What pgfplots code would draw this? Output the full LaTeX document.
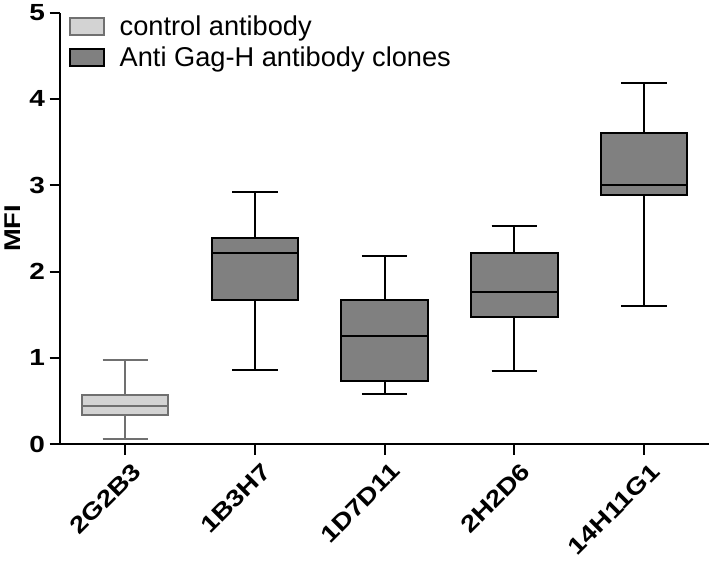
\documentclass[border=0pt]{standalone}
\usepackage{fontspec}
\setmainfont{Liberation Sans}
\newfontfamily\widefont{Liberation Sans}[FakeStretch=1.2]
\usepackage{pgfplots}
\pgfplotsset{compat=1.18}
\usepgfplotslibrary{statistics}
\definecolor{ctrlfill}{RGB}{211,211,211}
\definecolor{ctrldraw}{RGB}{112,112,112}
\definecolor{abfill}{RGB}{128,128,128}
\begin{document}
\begin{tikzpicture}
\begin{axis}[
  scale only axis, width=484pt, height=322pt,
  xmin=-0.5, xmax=4.5, ymin=0, ymax=5,
  axis x line*=bottom, axis y line*=left,
  axis line style={line width=1.5pt, -},
  xtick={0,1,2,3,4},
  xticklabels={2G2B3,1B3H7,1D7D11,2H2D6,14H11G1},
  ytick={0,1,2,3,4,5},
  tick style={line width=1.5pt, black},
  major tick length=8pt,
  tick align=outside,
  /pgf/number format/assume math mode=true,
  xticklabel style={rotate=45, anchor=north east, xshift=3pt, yshift=-3pt,
    font=\widefont\bfseries\fontsize{17.4}{20}\selectfont},
  yticklabel style={font=\widefont\bfseries\fontsize{17.4}{20}\selectfont},
  ylabel={\bfseries MFI},
  ylabel style={font=\widefont\fontsize{17}{20}\selectfont, yshift=0pt},
  legend style={draw=none, fill=none, at={(0.011,1.0)}, anchor=north west,
    font=\fontsize{20.3}{23}\selectfont, row sep=3pt, inner xsep=1pt, inner ysep=0pt},
  legend cell align=left,
  legend image code/.code={\draw[#1, line width=1.5pt] (0pt,-6.4pt) rectangle (25.5pt,6.4pt);
    \path[draw=none, fill=none] (0pt,0pt) -- (35pt,0pt);},
  boxplot/draw direction=y,
]
\addlegendimage{fill=ctrlfill, draw=ctrldraw}
\addlegendentry{control antibody}
\addlegendimage{fill=abfill, draw=black}
\addlegendentry{Anti Gag-H antibody clones}

\addplot+[forget plot, solid, line width=1.5pt, draw=ctrldraw, fill=ctrlfill, mark=none,
  boxplot prepared={lower whisker=0.06, lower quartile=0.34, median=0.44,
    upper quartile=0.57, upper whisker=0.97, draw position=0,
    box extend=0.667, whisker extend=0.35}] coordinates {};
\addplot+[forget plot, solid, line width=1.5pt, draw=black, fill=abfill, mark=none,
  boxplot prepared={lower whisker=0.86, lower quartile=1.67, median=2.22,
    upper quartile=2.39, upper whisker=2.92, draw position=1,
    box extend=0.667, whisker extend=0.35}] coordinates {};
\addplot+[forget plot, solid, line width=1.5pt, draw=black, fill=abfill, mark=none,
  boxplot prepared={lower whisker=0.58, lower quartile=0.73, median=1.25,
    upper quartile=1.67, upper whisker=2.18, draw position=2,
    box extend=0.667, whisker extend=0.35}] coordinates {};
\addplot+[forget plot, solid, line width=1.5pt, draw=black, fill=abfill, mark=none,
  boxplot prepared={lower whisker=0.85, lower quartile=1.47, median=1.76,
    upper quartile=2.21, upper whisker=2.53, draw position=3,
    box extend=0.667, whisker extend=0.35}] coordinates {};
\addplot+[forget plot, solid, line width=1.5pt, draw=black, fill=abfill, mark=none,
  boxplot prepared={lower whisker=1.60, lower quartile=2.89, median=3.00,
    upper quartile=3.61, upper whisker=4.18, draw position=4,
    box extend=0.667, whisker extend=0.35}] coordinates {};
\draw[line width=1.5pt] (rel axis cs:0,0) -- ++(-9pt,0pt);
\end{axis}
\end{tikzpicture}
\end{document}
